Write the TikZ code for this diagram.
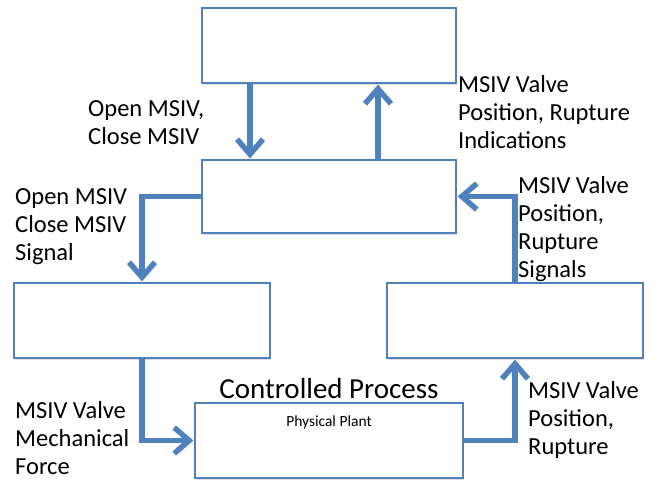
\documentclass[tikz,border=0pt]{standalone}
\usepackage{fontspec}
\setmainfont{Carlito}
\usetikzlibrary{arrows.meta, positioning, shadows}
\definecolor{stpblue}{RGB}{79,129,189}

\begin{document}
\begin{tikzpicture}[
  x=1pt, y=-1pt,
  every node/.style={inner sep=0pt},
  blk/.style={draw=stpblue, line width=1.2pt, fill=white, minimum width=254pt,
              minimum height=75pt,
              drop shadow={opacity=0.25, shadow xshift=1pt, shadow yshift=-1.5pt}},
  lbl/.style={font=\fontsize{24.5}{28}\selectfont, align=left, anchor=north west},
  arr/.style={-{Straight Barb[length=15pt,width=26pt]}, line width=5.5pt, stpblue},
]
\useasboundingbox (0,0) rectangle (662,480);

% boxes
\node[blk] (top) at (329,45.5) {};
\node[blk, minimum height=73pt] (mid) at (329,196.5) {};
\node[blk, minimum width=256pt] (ctrl) at (142,320.5) {};
\node[blk, minimum width=256pt] (sensor) at (515,320.5) {};
\node[blk, minimum width=268pt] (plant) at (329,440.5) {};
\node[font=\fontsize{15.5}{18}\selectfont, below=13pt of plant.north] (plantname) {Physical Plant};
\node[font=\fontsize{29}{34}\selectfont, above=3pt of plant.north] (cproc) {Controlled Process};

% labels
\node[lbl] (cmdlbl) at (88,100) {Open MSIV,\\Close MSIV};
\node[lbl] (fblbl) at (458,75) {MSIV Valve\\Position, Rupture\\Indications};
\node[lbl] (ctrllbl) at (15,188) {Open MSIV\\Close MSIV\\Signal};
\node[lbl] (senslbl) at (518,176) {MSIV Valve\\Position,\\Rupture\\Signals};
\node[lbl] (forcelbl) at (15,401) {MSIV Valve\\Mechanical\\Force};
\node[lbl] (outlbl) at (528,381) {MSIV Valve\\Position,\\Rupture};

% connectors
\draw[arr, shorten >=1pt] ([xshift=-79pt]top.south) -- ([xshift=-79pt]mid.north);
\draw[arr, shorten >=1pt] ([xshift=49pt]mid.north) -- ([xshift=49pt]top.south);
\draw[arr, shorten >=1pt] (mid.west) -| (ctrl.north);
\draw[arr, shorten >=1pt] (ctrl.south) |- (plant.west);
\draw[arr, shorten >=1pt] (plant.east) -| (sensor.south);
\draw[arr, shorten >=1pt] (sensor.north) |- (mid.east);

\end{tikzpicture}
\end{document}
